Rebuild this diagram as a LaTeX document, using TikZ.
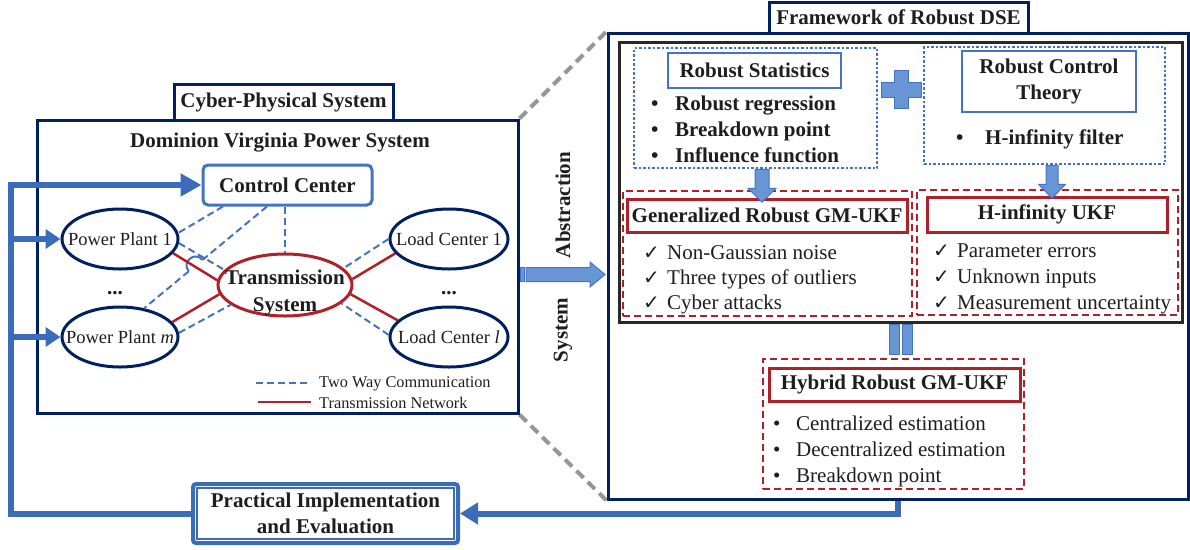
\documentclass[tikz,border=0pt]{standalone}
\usepackage{fontspec}
\setmainfont{Liberation Serif}
\newfontfamily\symfont{DejaVu Sans}
\usetikzlibrary{shapes.geometric,arrows.meta,calc}
\pgfdeclarelayer{bg}
\pgfsetlayers{bg,main}
\definecolor{navy}{RGB}{0,32,96}
\definecolor{fbblue}{RGB}{58,108,185}
\definecolor{lblue}{RGB}{68,114,196}
\definecolor{afill}{RGB}{104,150,212}
\definecolor{dred}{RGB}{176,32,40}
\definecolor{txt}{RGB}{30,30,30}
\definecolor{gline}{RGB}{150,150,150}
\definecolor{ibox}{RGB}{40,40,40}
\newcommand\fsz[2]{\fontsize{#1pt}{#2pt}\selectfont}
\newcommand\bul[1]{\makebox[#1][l]{\textbullet}}
\newcommand\chk{\makebox[24pt][l]{\symfont\fontsize{20pt}{22pt}\selectfont ✓}}
\tikzset{
  every node/.style={text=txt, inner sep=0pt},
  navybox/.style={draw=navy, line width=3pt, fill=white, rectangle},
  ttl/.style={font=\fsz{21}{26}\bfseries},
  reg/.style={font=\fsz{21}{26}},
  ell/.style={ellipse, draw=navy, line width=3pt, fill=white, font=\fsz{18.5}{22}},
  comm/.style={draw=lblue, line width=2pt, dash pattern=on 7pt off 4pt},
  trans/.style={draw=dred, line width=2.5pt},
  fb/.style={draw=fbblue, line width=6pt, fill=none},
  dotbox/.style={draw=lblue, line width=2.5pt, dash pattern=on 2.5pt off 2pt},
  redd/.style={draw=dred, line width=2.5pt, dash pattern=on 7pt off 4pt, fill=white},
  redbox/.style={draw=dred, line width=3pt, fill=white},
  bluebox/.style={draw=lblue, line width=2.5pt, fill=white},
  barrow/.style={fill=afill, draw=lblue, line width=1pt},
  gdash/.style={draw=gline, line width=4pt, dash pattern=on 10pt off 6pt},
}
\begin{document}
\begin{tikzpicture}[x=1pt,y=-1pt]
\useasboundingbox (0,0) rectangle (1190,549);

% ---------------- left panel ----------------
\node[navybox, minimum width=481pt, minimum height=293pt] (LB) at (277.5,266.5) {};
\node[navybox, ttl, minimum width=219pt, minimum height=36pt] (CPS) at (283.5,102) {Cyber-Physical System};
\node[ttl] (DV) at (280,143) {Dominion Virginia Power System};
\node[draw=lblue, line width=3pt, rounded corners=5pt, fill=white, ttl,
      minimum width=169pt, minimum height=40pt] (CC) at (287.5,185) {Control Center};

\node[ell, minimum width=116pt, minimum height=60pt] (PP1) at (120,239) {\makebox[0pt]{Power Plant 1}};
\node[ell, minimum width=116pt, minimum height=60pt] (PPm) at (120,337) {\makebox[0pt]{Power Plant \textit{m}}};
\node[ell, minimum width=118pt, minimum height=60pt] (LC1) at (449,239) {\makebox[0pt]{Load Center 1}};
\node[ell, minimum width=118pt, minimum height=60pt] (LCl) at (449,337) {\makebox[0pt]{Load Center \textit{l}}};
\node[ell, draw=dred, minimum width=134pt, minimum height=62pt] (TS) at (285,285) {};

\node[ttl] (d1) at (115,293) {...};
\node[ttl] (d2) at (449,293) {...};

% communication links
\draw[comm] ([xshift=-64.5pt]CC.south) -- (PP1.6);
\coordinate (s2) at ([xshift=-20.5pt]CC.south);
\coordinate (e2) at (PPm.50);
\coordinate (hA) at ($(s2)!0.525!(e2)$);
\coordinate (hB) at ($(s2)!0.637!(e2)$);
\draw[comm] (s2) -- (hA);
\draw[draw=lblue, line width=2pt] (hA) .. controls ($(hA)!12pt!90:(s2)$) and ($(hB)!12pt!-90:(e2)$) .. (hB);
\draw[comm] (hB) -- (e2);
\draw[comm] (CC.south -| TS.north) -- (TS.north);
\draw[comm] (PP1.-4) -- (TS.166);
\draw[comm] (PPm.4) -- (TS.200);
\draw[comm] (LC1.180) -- (TS.16);
\draw[comm] (LCl.178) -- (TS.-18);
% transmission links
\draw[trans] (PP1.-15) -- (TS.176);
\draw[trans] (PPm.16) -- (TS.188);
\draw[trans] (LC1.195) -- (TS.5);
\draw[trans] (LCl.162) -- (TS.-8);
\node[ttl, align=center, font=\fsz{21}{27}\bfseries] (TSt) at (285,293) {Transmission\\System};

% legend
\coordinate (L1a) at (256,383); \coordinate (L1b) at (311,383);
\coordinate (L2a) at (258,402); \coordinate (L2b) at (311,402);
\draw[comm] (L1a) -- (L1b);
\draw[trans] (L2a) -- (L2b);
\node[anchor=west, font=\fsz{16.3}{19}] (L1t) at (319,384) {Two Way Communication};
\node[anchor=west, font=\fsz{16.3}{19}] (L2t) at (319,403) {Transmission Network};

% ---------------- right panel ----------------
\node[navybox, minimum width=580pt, minimum height=466pt] (RB) at (898,266) {};
\node[navybox, ttl, minimum width=259pt, minimum height=31pt] (FR) at (898.5,17.5) {Framework of Robust DSE};
\node[draw=ibox, line width=3pt, minimum width=563pt, minimum height=280pt] (IB) at (900.5,182) {};

\node[dotbox, minimum width=243pt, minimum height=120pt] (RSd) at (755.5,108) {};
\node[bluebox, ttl, minimum width=173pt, minimum height=35pt] (RS) at (754.5,70.5) {Robust Statistics};
\node[anchor=west, ttl, align=left] (RSl) at (651,129)
  {\bul{24pt}Robust regression\\\bul{24pt}Breakdown point\\\bul{24pt}Influence function};

\fill[afill, draw=lblue, line width=1pt] (894,70) -- (908,70) -- (908,82) -- (921,82) -- (921,97) -- (908,97)
  -- (908,108) -- (894,108) -- (894,97) -- (881,97) -- (881,82) -- (894,82) -- cycle;

\node[dotbox, minimum width=241pt, minimum height=117pt] (RCd) at (1044.5,105.5) {};
\node[bluebox, ttl, align=center, minimum width=174pt, minimum height=61pt] (RC) at (1049,81.5) {Robust Control\\Theory};
\node[anchor=west, ttl] (RCl) at (956,139) {\bul{29pt}H-infinity filter};

\node[redd, minimum width=289pt, minimum height=125pt] (GRd) at (767.5,253.5) {};
\node[redbox, ttl, minimum width=280pt, minimum height=33pt] (GR) at (767,215.5) {Generalized Robust GM-UKF};
\node[anchor=west, reg, align=left, font=\fsz{21}{25}] (GRl) at (643,280)
  {\chk Non-Gaussian noise\\\chk Three types of outliers\\\chk Cyber attacks};

\node[redd, minimum width=261pt, minimum height=125pt] (HUd) at (1047.5,252.5) {};
\node[redbox, ttl, minimum width=240pt, minimum height=35pt] (HU) at (1047,214.5) {H-infinity UKF};
\node[anchor=west, reg, align=left] (HUl) at (933,279)
  {\chk Parameter errors\\\chk Unknown inputs\\\chk Measurement uncertainty};

% block arrows into the two filters
\coordinate (a1) at ([xshift=6.5pt]RSd.south);
\draw[barrow] ($(a1)+(-7,0)$) -- ++(14,0) -- ++(0,19) -- ++(7,0) -- ++(-14,14) -- ++(-14,-14) -- ++(7,0) -- cycle;
\coordinate (a2) at ([xshift=7.5pt]RCd.south);
\draw[barrow] ($(a2)+(-6,0)$) -- ++(12,0) -- ++(0,19) -- ++(7.5,0) -- ++(-13.5,14) -- ++(-13.5,-14) -- ++(7.5,0) -- cycle;

% hybrid
\draw[barrow] ($(IB.south)+(-11.5,1)$) rectangle ($(IB.south)+(-1.5,31)$);
\draw[barrow] ($(IB.south)+(1.5,1)$) rectangle ($(IB.south)+(11.5,31)$);
\node[redd, minimum width=261pt, minimum height=130pt] (HYd) at (893.5,424) {};
\node[redbox, ttl, minimum width=251pt, minimum height=33pt] (HY) at (894.5,384.5) {Hybrid Robust GM-UKF};
\node[anchor=west, reg, align=left] (HYl) at (773,451)
  {\bul{23pt}Centralized estimation\\\bul{23pt}Decentralized estimation\\\bul{23pt}Breakdown point};

% system abstraction arrow
\node[ttl, rotate=90] (ABS) at (563,205) {Abstraction};
\node[ttl, rotate=90] (SYS) at (563,330) {System};
\coordinate (ca) at (520,274.5);
\draw[barrow] ($(ca)+(0,-7)$) rectangle ($(ca)+(4,7)$);
\draw[barrow] ($(ca)+(6,-7)$) -- ++(64,0) -- ++(0,-5.5) -- ++(15,12.5) -- ++(-15,12.5) -- ++(0,-5.5) -- ++(-64,0) -- cycle;

% zoom lines
\begin{pgfonlayer}{bg}
\draw[gdash] (LB.north east) -- (RB.north west);
\draw[gdash] (LB.south east) -- (RB.south west);
\end{pgfonlayer}

% ---------------- feedback loop ----------------
\node[draw=fbblue, line width=4pt, rounded corners=3pt, fill=white, ttl, align=center,
      minimum width=265pt, minimum height=59pt] (PI) at (325.5,513.5) {Practical Implementation\\and Evaluation};
\draw[draw=fbblue, line width=1.3pt] ([shift={(6pt,6pt)}]PI.south west) rectangle ([shift={(-6pt,-6pt)}]PI.north east);
\coordinate (Fc) at (11,185);
\coordinate (F1) at (11,239);
\coordinate (F2) at (11,337);
\draw[fb, -{Triangle[length=21pt,width=22pt]}] (PI.west) -| (Fc) -- (CC.west);
\draw[fb, -{Triangle[length=15pt,width=19pt]}] (F1) -- (PP1.west);
\draw[fb, -{Triangle[length=15pt,width=19pt]}] (F2) -- (PPm.west);
\draw[fb, -{Triangle[length=18pt,width=21pt]}] (RB.south) |- (PI.east);
\end{tikzpicture}
\end{document}
